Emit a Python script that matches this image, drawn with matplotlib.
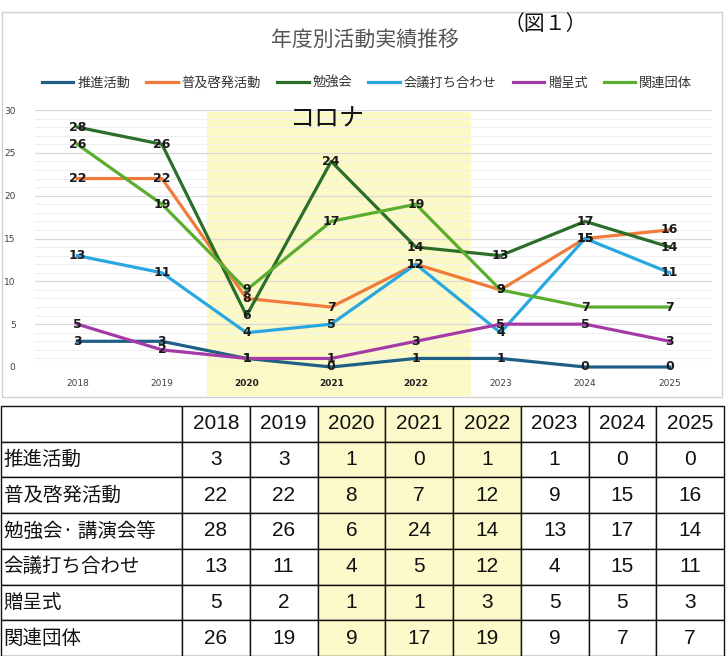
import matplotlib
matplotlib.use("Agg")
import matplotlib.pyplot as plt
from matplotlib.patches import Rectangle
from matplotlib.ticker import MultipleLocator

JP = ["Noto Sans CJK JP", "DejaVu Sans"]
plt.rcParams["font.family"] = JP

years = [2018, 2019, 2020, 2021, 2022, 2023, 2024, 2025]
covid_years = [2020, 2021, 2022]

legend_names = ["推進活動", "普及啓発活動", "勉強会", "会議打ち合わせ", "贈呈式", "関連団体"]
table_names = ["推進活動", "普及啓発活動", "勉強会· 講演会等", "会議打ち合わせ", "贈呈式", "関連団体"]

suishin = [3, 3, 1, 0, 1, 1, 0, 0]
fukyu = [22, 22, 8, 7, 12, 9, 15, 16]
benkyo = [28, 26, 6, 24, 14, 13, 17, 14]
kaigi = [13, 11, 4, 5, 12, 4, 15, 11]
zotei = [5, 2, 1, 1, 3, 5, 5, 3]
kanren = [26, 19, 9, 17, 19, 9, 7, 7]

series = [suishin, fukyu, benkyo, kaigi, zotei, kanren]
colors = ["#1f5f86", "#f07b3a", "#2a6e2a", "#2aa7e0", "#a43aa6", "#5aad2e"]

W, H = 728, 656
fig = plt.figure(figsize=(W / 100, H / 100), dpi=100)


def fx(px):
    return px / W


def fy(py):
    return 1 - py / H


# chart frame (behind everything)
frame = Rectangle((fx(2), fy(397)), fx(720), 385 / H, transform=fig.transFigure,
                  facecolor="white", edgecolor="#d0d0d0", lw=1, zorder=-5)
fig.patches.append(frame)

ax = fig.add_axes([fx(35), fy(367), fx(712 - 35), (367 - 110) / H])
ax.patch.set_alpha(0)
ax.set_xlim(2017.5, 2025.5)
ax.set_ylim(0, 30)
ax.yaxis.set_major_locator(MultipleLocator(5))
ax.yaxis.set_minor_locator(MultipleLocator(1))
ax.grid(True, which="major", axis="y", color="#d9d9d9", lw=0.9)
ax.grid(True, which="minor", axis="y", color="#efefef", lw=0.7)
ax.set_axisbelow(True)
for s in ax.spines.values():
    s.set_visible(False)
ax.tick_params(which="both", length=0, labelsize=6.5, colors="#404040")
ax.tick_params(axis="y", pad=14)
ax.tick_params(axis="x", pad=9)
ax.set_xticks(years)
ax.set_xticklabels([str(y) for y in years], family="DejaVu Sans")
for lab, y in zip(ax.get_xticklabels(), years):
    if y in covid_years:
        lab.set_fontweight("bold")
        lab.set_color("#202020")
for lab in ax.get_yticklabels():
    lab.set_family("DejaVu Sans")

# corona band
ax.axvspan(2019.53, 2022.64, ymin=-0.109, ymax=0.992, color="#fbf9c6", zorder=0, clip_on=False)
ax.text(2020.95, 28.9, "コロナ", fontsize=18, ha="center", va="center", color="#111111")

for name, vals, c in zip(legend_names, series, colors):
    ax.plot(years, vals, color=c, lw=2.3, label=name, clip_on=False, zorder=3)
for vals in series:
    for x, v in zip(years, vals):
        ax.text(x, v, str(v), ha="center", va="center", fontsize=9, fontweight="bold",
                family="DejaVu Sans", color="#1a1a1a", zorder=5)

fig.text(fx(365), fy(40), "年度別活動実績推移", fontsize=15, ha="center", va="center", color="#555555")
fig.text(fx(545), fy(24), "（図１）", fontsize=15, ha="center", va="center", color="#111111")

handles, labels = ax.get_legend_handles_labels()
fig.legend(handles, labels, loc="center", bbox_to_anchor=(fx(367), fy(83)), ncol=6, frameon=False,
           fontsize=9.5, handlelength=2.4, handletextpad=0.3, columnspacing=1.2, labelcolor="#333333")

# table
tax = fig.add_axes([fx(1), fy(656), fx(723), (656 - 406) / H])
tax.axis("off")
cell_text = [[""] + [str(y) for y in years]]
cell_colors = [["white"] + ["#fcfacb" if y in covid_years else "white" for y in years]]
for name, vals in zip(table_names, series):
    cell_text.append([name] + [str(v) for v in vals])
    cell_colors.append(["white"] + ["#fcfacb" if y in covid_years else "white" for y in years])

first_w = 181 / 723
other_w = (1 - first_w) / len(years)
tbl = tax.table(cellText=cell_text, cellColours=cell_colors, colWidths=[first_w] + [other_w] * len(years),
                bbox=[0, 0, 1, 1], cellLoc="center")
tbl.auto_set_font_size(False)
for (r, c), cell in tbl.get_celld().items():
    cell.set_edgecolor("#111111")
    cell.set_linewidth(1.0)
    t = cell.get_text()
    t.set_color("#111111")
    if c == 0:
        t.set_ha("left")
        cell.PAD = 0.015
        t.set_fontsize(14)
        t.set_family(JP)
    else:
        t.set_fontsize(15)
        t.set_family(["Liberation Sans Narrow", "Liberation Sans", "DejaVu Sans"])
        t.set_stretch("condensed")

fig.savefig("out.png", dpi=100)
